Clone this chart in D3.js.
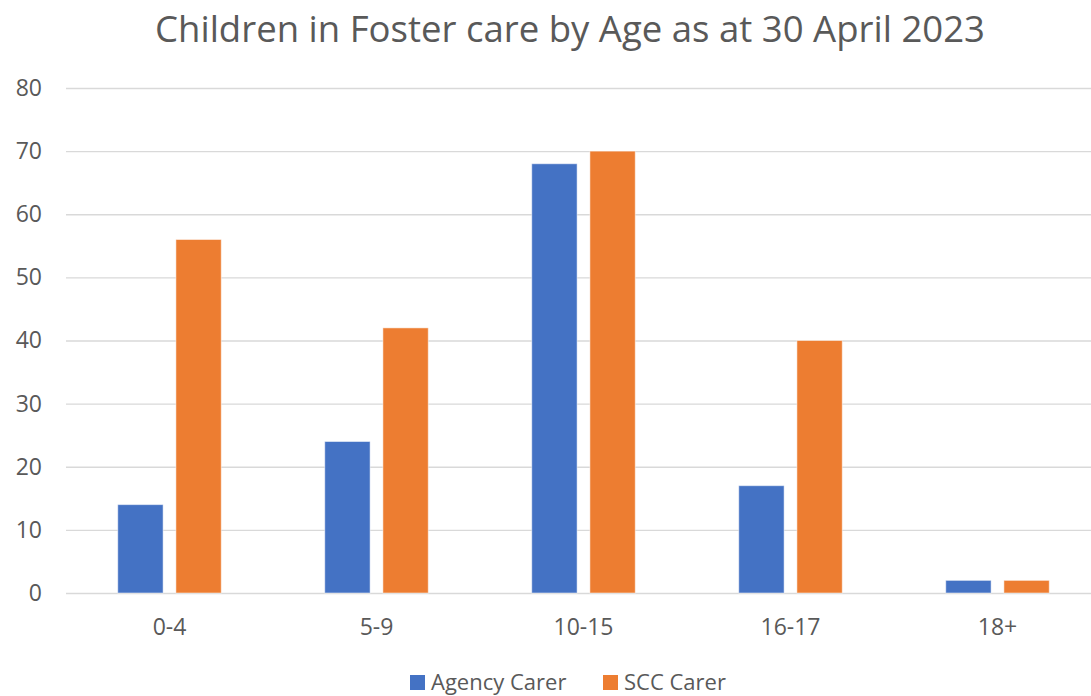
<html>
<head>
<script src="https://d3js.org/d3.v7.min.js"></script>
<style>
body { margin: 0; background: #fff; }
text { font-family: "Open Sans", "Noto Sans", sans-serif; fill: #595959; }
</style>
</head>
<body>
<div id="canvas"></div>
<script>

var categories = ["0-4", "5-9", "10-15", "16-17", "18+"];
var seriesNames = ["Agency Carer", "SCC Carer"];
var agency = [14, 24, 68, 17, 2];
var scc = [56, 42, 70, 40, 2];
var yTicks = [0, 10, 20, 30, 40, 50, 60, 70, 80];
var colors = ["#4472c4", "#ed7d31"];

var width = 1091, height = 696;

var svg = d3.select("#canvas")
            .append("svg")
            .attr("width", width)
            .attr("height", height);

var x = d3.scaleBand().domain(categories).range([66, 1101]).paddingInner(0.5).paddingOuter(0.25);
var xs = d3.scaleBand().domain(seriesNames).range([0, x.bandwidth()]).paddingInner(0.22);
var y = d3.scaleLinear().domain([0, 80]).range([593, 88]);

// title
svg.append("text")
   .attr("x", 570)
   .attr("y", 42)
   .attr("text-anchor", "middle")
   .attr("textLength", 830)
   .attr("lengthAdjust", "spacingAndGlyphs")
   .style("font-size", "37px")
   .text("Children in Foster care by Age as at 30 April 2023");

// gridlines + y labels
var yAxis = d3.axisLeft(y).tickValues(yTicks).tickSize(-(1091 - 66)).tickPadding(24);
var ga = svg.append("g").attr("transform", "translate(66,0)").call(yAxis);
ga.select(".domain").remove();
ga.selectAll("line").attr("stroke", "#d9d9d9").attr("stroke-width", 1.3);
ga.selectAll("text").style("font-size", "23px").attr("fill", "#595959").attr("x", -24);

// bars
var rows = categories.map(function(c, i) { return { cat: c, vals: [agency[i], scc[i]] }; });

svg.append("g")
   .selectAll("g")
   .data(rows)
   .enter()
   .append("g")
   .attr("transform", function(d) { return "translate(" + x(d.cat) + ",0)"; })
   .selectAll("rect")
   .data(function(d) { return d.vals.map(function(v, j) { return { name: seriesNames[j], value: v, j: j }; }); })
   .enter()
   .append("rect")
   .attr("x", function(d) { return xs(d.name); })
   .attr("width", xs.bandwidth())
   .attr("y", function(d) { return y(d.value); })
   .attr("height", function(d) { return y(0) - y(d.value); })
   .attr("fill", function(d) { return colors[d.j]; })
   .attr("stroke", "#fff")
   .attr("stroke-opacity", 0.5)
   .attr("stroke-width", 1);

// x labels
svg.append("g")
   .selectAll("text")
   .data(categories)
   .enter()
   .append("text")
   .attr("x", function(d) { return x(d) + x.bandwidth() / 2; })
   .attr("y", 635)
   .attr("text-anchor", "middle")
   .style("font-size", "23px")
   .text(function(d) { return d; });

// legend
var legendX = [410, 603];
var leg = svg.append("g")
   .selectAll("g")
   .data(seriesNames)
   .enter()
   .append("g")
   .attr("transform", function(d, i) { return "translate(" + legendX[i] + ",675)"; });
leg.append("rect")
   .attr("width", 15).attr("height", 15)
   .attr("fill", function(d, i) { return colors[i]; });
leg.append("text")
   .attr("x", 21)
   .attr("y", 15)
   .style("font-size", "22px")
   .text(function(d) { return d; });

</script>
</body>
</html>
